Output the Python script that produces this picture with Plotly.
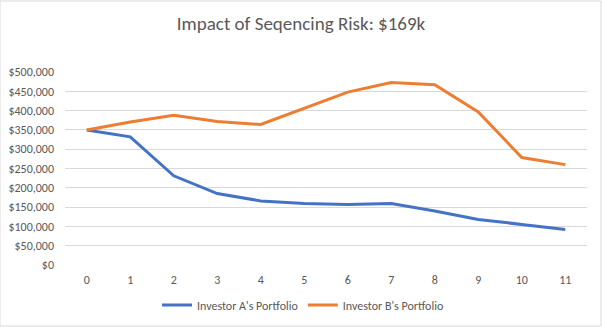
import plotly.graph_objects as go

periods = [0, 1, 2, 3, 4, 5, 6, 7, 8, 9, 10, 11]
investor_a = [350000, 332000, 231000, 185000, 166000, 159500, 157000, 159500, 140000, 118000, 105000, 92000]
investor_b = [350000, 370500, 388000, 372000, 364000, 407000, 448000, 472500, 467000, 396500, 278500, 260000]
y_ticks = list(range(0, 500001, 50000))
y_labels = ["$" + format(v, ",") for v in y_ticks]

font_family = "Carlito, Calibri, 'Open Sans', sans-serif"
gray = "#595959"

fig = go.Figure()
fig.add_trace(go.Scatter(x=periods, y=investor_a, mode="lines", name="Investor A's Portfolio",
                         line=dict(color="#4472C4", width=3)))
fig.add_trace(go.Scatter(x=periods, y=investor_b, mode="lines", name="Investor B's Portfolio",
                         line=dict(color="#ED7D31", width=3)))

fig.update_layout(
    width=602, height=327,
    margin=dict(l=65, r=15, t=72, b=62, autoexpand=False),
    paper_bgcolor="white", plot_bgcolor="white",
    title=dict(text="Impact of Seqencing Risk: $169k", x=0.5, xanchor="center",
               y=1 - 23 / 327, yanchor="middle",
               font=dict(family=font_family, size=19, color=gray)),
    font=dict(family=font_family, size=12, color=gray),
    xaxis=dict(range=[-0.5, 11.5], tickmode="array", tickvals=periods, automargin=False,
               ticktext=[str(p) for p in periods], showgrid=False, zeroline=False,
               showline=False, ticks="", ticklabelstandoff=6, tickfont=dict(size=12, color=gray)),
    yaxis=dict(range=[0, 500000], tickmode="array", tickvals=y_ticks, ticktext=y_labels,
               automargin=False, showgrid=True, gridcolor="#d9d9d9", gridwidth=1, zeroline=False,
               showline=False, ticks="", ticklabelstandoff=10, tickfont=dict(size=12, color=gray)),
    legend=dict(orientation="h", x=(303 - 65) / 522, xanchor="center", y=-(305 - 265) / 193,
                yanchor="middle", font=dict(size=12, color=gray), itemwidth=30,
                bgcolor="rgba(0,0,0,0)"),
    shapes=[dict(type="rect", xref="paper", yref="paper", x0=-65 / 522, x1=1 + 14 / 522,
                 y0=-61 / 193, y1=1 + 71 / 193, line=dict(color="#d9d9d9", width=1),
                 fillcolor="rgba(0,0,0,0)", layer="below")],
)

fig.write_html("out.html")
